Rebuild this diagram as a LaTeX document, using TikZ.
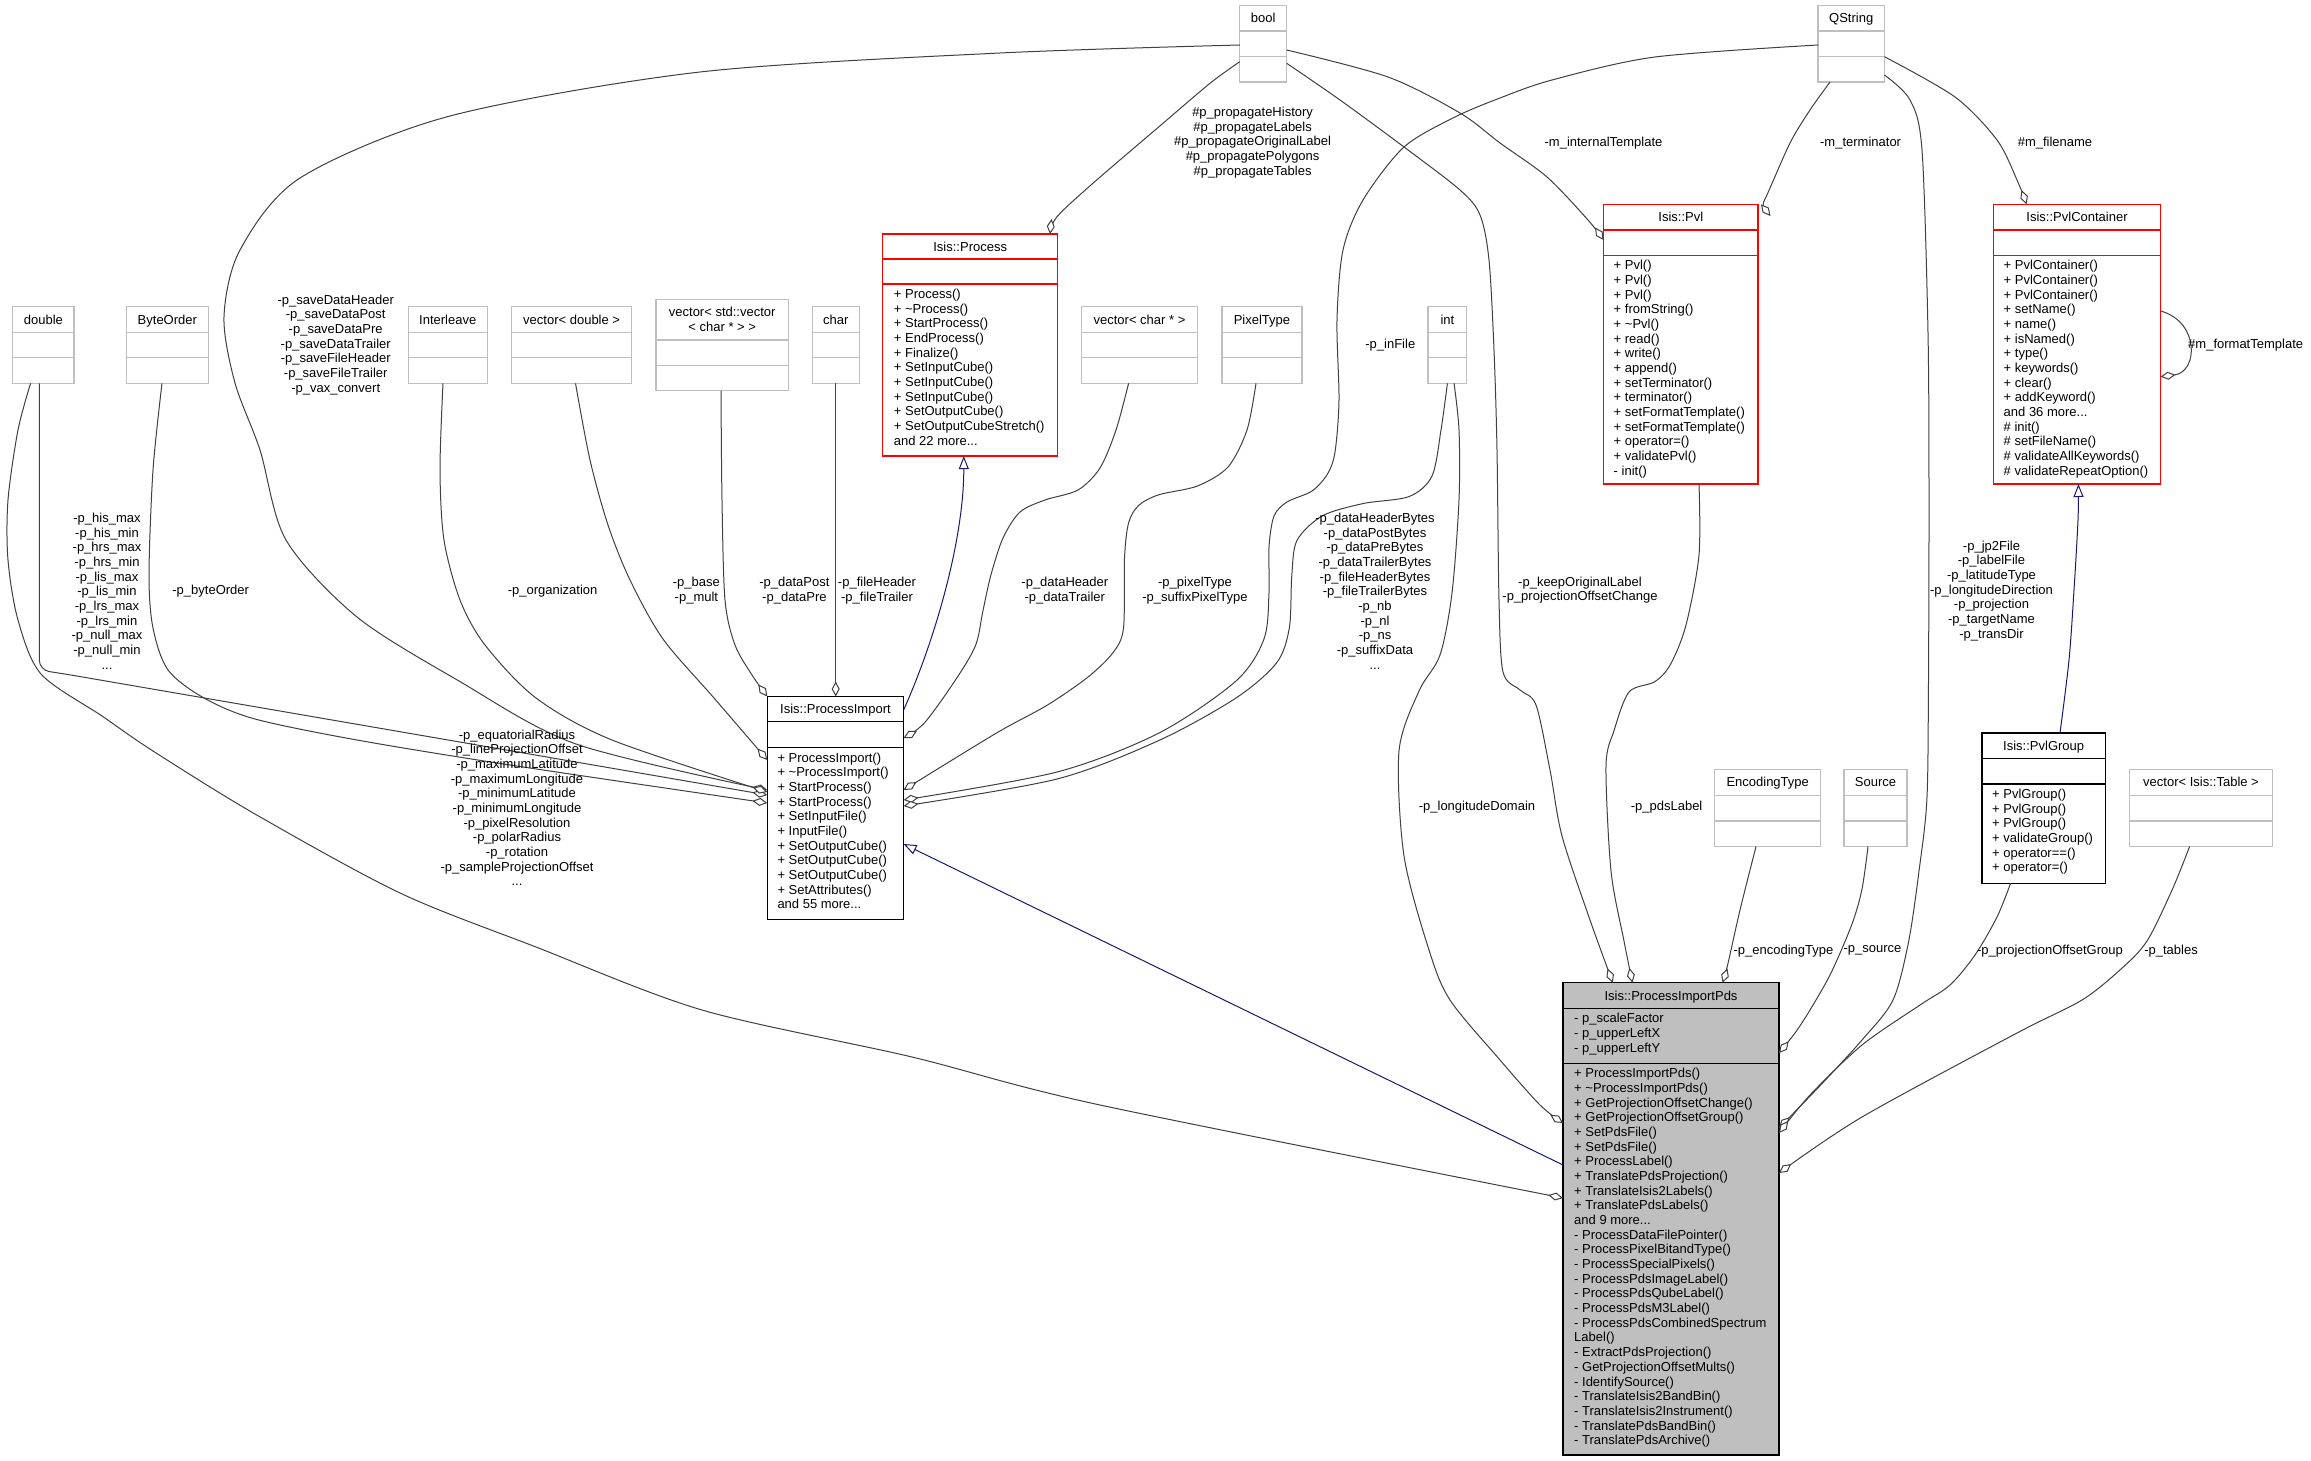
\documentclass[tikz,border=0pt]{standalone}
\usepackage{fontspec}
\setmainfont{Liberation Sans}
\usetikzlibrary{arrows.meta,calc}
\definecolor{edgec}{HTML}{404040}
\definecolor{inhc}{HTML}{191970}
\definecolor{gborder}{HTML}{BFBFBF}
\definecolor{rborder}{HTML}{FF0000}
\definecolor{pfill}{HTML}{BFBFBF}
\newcommand\ff{\fontsize{13}{14.67}\selectfont}
\newcommand\umlnode[9]{%
  \node[#1box, minimum width=#5, minimum height=#6] (#2) at (#3,#4) {};
  \draw[#1sep] ($(#2.north west)+(0,#7)$) -- ($(#2.north east)+(0,#7)$);
  \draw[#1sep] ($(#2.north west)+(0,#8)$) -- ($(#2.north east)+(0,#8)$);
  \node[ttl, anchor=base] (#2-t) at ($(#2.north)+(0,{#7/2+4.5})$) {#9};
}
\begin{document}
\begin{tikzpicture}[x=1pt,y=-1pt,
  boxbase/.style={draw, anchor=north west, inner sep=0, outer sep=0, rectangle},
  gbox/.style={boxbase, draw=gborder, line width=1.3pt, fill=white},
  gsep/.style={draw=gborder, line width=1.3pt},
  rbox/.style={boxbase, draw=rborder, line width=1.3pt, fill=white},
  rsep/.style={draw=rborder, line width=1.3pt},
  kbox/.style={boxbase, draw=black, line width=1.3pt, fill=white},
  ksep/.style={draw=black, line width=1.3pt},
  pbox/.style={boxbase, draw=black, line width=1.3pt, fill=pfill},
  psep/.style={draw=black, line width=1.3pt},
  ttl/.style={font=\ff, inner sep=0, align=center},
  mem/.style={font=\ff, inner sep=0, align=left, anchor=north west},
  lbl/.style={font=\ff, inner sep=0, align=center},
  agg/.style={draw=edgec, line width=1pt, -{Diamond[fill=white, length=15pt, width=8pt]}},
  inh/.style={draw=inhc, line width=1pt, -{Triangle[fill=white, length=13pt, width=10pt]}},
]
\fill[white] (0,0) rectangle (2311,1461);
\useasboundingbox (0,0) rectangle (2311,1461);

% ---------- classes ----------
\umlnode{g}{double}{12.8}{306.7}{61.2}{76.6}{25.6}{51}{double}
\umlnode{g}{bo}{126.5}{306.7}{81.7}{76.6}{25.6}{51}{ByteOrder}
\umlnode{g}{il}{408.2}{306.7}{79}{76.6}{25.6}{51}{Interleave}
\umlnode{g}{vd}{511.7}{306.7}{119.9}{76.6}{25.6}{51}{vector< double >}
\umlnode{g}{vvc}{656.1}{299.3}{132.2}{91.4}{40.7}{66}{}
\node[ttl] (vvc-tt) at ($(vvc.north)+(0,20.3)$) {vector< std::vector\\< char * > >};
\umlnode{g}{ch}{812.2}{306.7}{47}{76.6}{25.6}{51}{char}
\umlnode{g}{vc}{1081.6}{306.7}{115.8}{76.6}{25.6}{51}{vector< char * >}
\umlnode{g}{pt}{1221.9}{306.7}{80.1}{76.6}{25.6}{51}{PixelType}
\umlnode{g}{int}{1428}{306.7}{38.8}{76.6}{25.6}{51}{int}
\umlnode{g}{bool}{1239.8}{5.3}{46.9}{76.7}{25.7}{51.2}{bool}
\umlnode{g}{qs}{1818}{5.3}{66.4}{76.7}{25.7}{51.2}{QString}
\umlnode{g}{et}{1714.7}{769.3}{106}{77.2}{26}{51.6}{EncodingType}
\umlnode{g}{src}{1844}{769.3}{63.1}{77.2}{26}{51.6}{Source}
\umlnode{g}{vt}{2129.6}{769.3}{142.8}{77.2}{26}{51.6}{vector< Isis::Table >}

\umlnode{r}{proc}{882.7}{234}{175}{222.1}{25}{50}{Isis::Process}
\node[mem] at ($(proc.north west)+(11,55)$) {+ Process()\\+ \textasciitilde Process()\\+ StartProcess()\\+ EndProcess()\\+ Finalize()\\+ SetInputCube()\\+ SetInputCube()\\+ SetInputCube()\\+ SetOutputCube()\\+ SetOutputCubeStretch()\\and 22 more...};

\umlnode{r}{pvl}{1603.5}{204.3}{154.6}{279.7}{25.7}{51}{Isis::Pvl}
\node[mem] at ($(pvl.north west)+(10,56)$) {+ Pvl()\\+ Pvl()\\+ Pvl()\\+ fromString()\\+ \textasciitilde Pvl()\\+ read()\\+ write()\\+ append()\\+ setTerminator()\\+ terminator()\\+ setFormatTemplate()\\+ setFormatTemplate()\\+ operator=()\\+ validatePvl()\\- init()};

\umlnode{r}{pvc}{1993.5}{204.3}{167.1}{279.7}{25.7}{51}{Isis::PvlContainer}
\node[mem] at ($(pvc.north west)+(10,56)$) {+ PvlContainer()\\+ PvlContainer()\\+ PvlContainer()\\+ setName()\\+ name()\\+ isNamed()\\+ type()\\+ keywords()\\+ clear()\\+ addKeyword()\\and 36 more...\\\# init()\\\# setFileName()\\\# validateAllKeywords()\\\# validateRepeatOption()};

\umlnode{k}{pi}{767.3}{696.5}{136.3}{222.8}{25.3}{50.9}{Isis::ProcessImport}
\node[mem] at ($(pi.north west)+(10,56)$) {+ ProcessImport()\\+ \textasciitilde ProcessImport()\\+ StartProcess()\\+ StartProcess()\\+ SetInputFile()\\+ InputFile()\\+ SetOutputCube()\\+ SetOutputCube()\\+ SetOutputCube()\\+ SetAttributes()\\and 55 more...};

\umlnode{k}{pg}{1982}{733}{123.3}{150.3}{25.8}{51}{Isis::PvlGroup}
\node[mem] at ($(pg.north west)+(10,56)$) {+ PvlGroup()\\+ PvlGroup()\\+ PvlGroup()\\+ validateGroup()\\+ operator==()\\+ operator=()};

\umlnode{p}{pip}{1563}{982.7}{216}{472.3}{25.6}{80.6}{Isis::ProcessImportPds}
\node[mem] at ($(pip.north west)+(11,30.6)$) {- p\_scaleFactor\\- p\_upperLeftX\\- p\_upperLeftY};
\node[mem] at ($(pip.north west)+(11,85.6)$) {+ ProcessImportPds()\\+ \textasciitilde ProcessImportPds()\\+ GetProjectionOffsetChange()\\+ GetProjectionOffsetGroup()\\+ SetPdsFile()\\+ SetPdsFile()\\+ ProcessLabel()\\+ TranslatePdsProjection()\\+ TranslateIsis2Labels()\\+ TranslatePdsLabels()\\and 9 more...\\- ProcessDataFilePointer()\\- ProcessPixelBitandType()\\- ProcessSpecialPixels()\\- ProcessPdsImageLabel()\\- ProcessPdsQubeLabel()\\- ProcessPdsM3Label()\\- ProcessPdsCombinedSpectrum\\Label()\\- ExtractPdsProjection()\\- GetProjectionOffsetMults()\\- IdentifySource()\\- TranslateIsis2BandBin()\\- TranslateIsis2Instrument()\\- TranslatePdsBandBin()\\- TranslatePdsArchive()};

% ---------- connectors ----------
\draw[agg] plot[smooth] coordinates {(bool.west |- 0,45) (1000,53) (700,72) (450,116) (300,178) (240,250) (224,317) (235,383) (260,450) (286,540) (357,617) (459,681) (576,744) (pi.west |- 0,790)};
\draw[agg, rounded corners=10pt] (double.south -| 39.3,0) -- (39.3,670) -- (71,675) -- (pi.west |- 0,795);
\draw[agg] plot[smooth] coordinates {(double.south -| 30.6,0) (18,430) (8,500) (8,560) (18,620) (41,674) (102,716) (153,751) (255,814) (400,893) (536,947) (702,1010) (912,1057) (1100,1105) (pip.west |- 0,1198)};
\draw[agg] plot[smooth] coordinates {(bo.south -| 162,0) (153,470) (149,575) (153,628) (168,670) (204,698) (255,719) (357,740) (510,765) (pi.west |- 0,803)};
\draw[agg] plot[smooth] coordinates {(il.south -| 443,0) (440,470) (444,540) (460,600) (485,645) (536,698) (612,740) (pi.west |- 0,792)};
\draw[agg] plot[smooth] coordinates {(vd.south -| 575.5,0) (590,460) (608,525) (630,580) (663,639) (714,698) (pi.west |- 0,760)};
\draw[agg] plot[smooth] coordinates {(vvc.south -| 721,0) (722,500) (725,600) (735,645) (752,675) (pi.north west)};
\draw[agg] (ch.south -| 835.7,0) -- (pi.north -| 835.7,0);
\draw[inh] (pi.east |- 0,710) .. controls (935,640) and (963.8,540) .. (proc.south -| 963.8,0);
\draw[agg] plot[smooth] coordinates {(vc.south -| 1128.6,0) (1116,430) (1100,468) (1078,490) (1045,500) (1020,512) (1003,538) (990.8,575.4) (983,610.5) (975.5,645.6) (955,680.7) (924.5,722.8) (pi.east |- 0,738)};
\draw[agg] plot[smooth] coordinates {(pt.south -| 1256,0) (1247,430) (1228,467) (1197.4,486) (1159,494.7) (1138.8,505.3) (1128.6,522.8) (1124.5,558) (1123.5,628) (1113,652.6) (1087.8,677.2) (1047,705.3) (996,733.3) (pi.east |- 0,790)};
\draw[agg] plot[smooth] coordinates {(qs.west |- 0,45) (1655,57) (1552,80) (1500,98) (1455,117) (1404,147) (1363,200) (1343,250) (1337,320) (1339,400) (1335,452) (1327.5,474) (1312,491) (1287,502) (1274,516) (1269,547) (1269,593) (1264,639) (1236,681) (1159,733) (1057,772) (pi.east |- 0,800)};
\draw[agg] plot[smooth] coordinates {(int.south -| 1447.4,0) (1441,430) (1432,476) (1409.2,496.5) (1363.3,503.5) (1322.4,515.8) (1297,540.4) (1291.8,575.4) (1289.3,628) (1276.5,663) (1235.7,698.2) (1159,740.4) (1057,779) (pi.east |- 0,806)};
\draw[agg] plot[smooth] coordinates {(int.south -| 1454,0) (1459,430) (1459,500) (1452,593) (1440,655) (1419,691) (1399,751) (1404,856) (1429,950) (1450,1000) (1500,1060) (1540,1105) (pip.west |- 0,1123)};
\draw[agg] plot[smooth] coordinates {(bool.west |- 0,61.7) (1210,83.3) (1159,126.7) (1092.9,183.3) (1057,216.7) (proc.north -| 1050,0)};
\draw[agg] plot[smooth] coordinates {(bool.east |- 0,50) (1388,77) (1460,113) (1500,143) (1547,177) (1588,220) (pvl.west |- 0,240)};
\draw[agg] plot[smooth] coordinates {(bool.east |- 0,63.3) (1340,100) (1404,147) (1460,190) (1480,215) (1489,260) (1494,350) (1497,450) (1499,600) (1503,672) (1520,690) (1536,705) (1550,770) (1562,836) (1590,920) (pip.north -| 1612.8,0)};
\draw[agg] plot[smooth] coordinates {(pvl.south -| 1699,0) (1699,555) (1686,625) (1670.7,664) (1655,681.6) (1629,692) (1614,730.7) (1606,765.8) (1611,871) (1624,941) (pip.north -| 1632.4,0)};
\draw[agg] plot[smooth] coordinates {(qs.south -| 1830,0) (1810,110) (1790,143) (1766,197) (pvl.north -| 1761,0)};
\draw[agg] plot[smooth] coordinates {(qs.east |- 0,75) (1910,100) (1922,150) (1928,333) (1929,500) (1928.4,695.6) (1926.8,801) (1919,871) (1908.7,941) (1893,1000) (1862,1040) (1820.7,1085) (pip.east |- 0,1128)};
\draw[agg] plot[smooth] coordinates {(qs.east |- 0,56.7) (1955,97) (1997,140) (2017,180) (pvc.north -| 2026.6,0)};
\draw[agg] (pvc.east |- 0,311) .. controls (2200,322) and (2198,372) .. (pvc.east |- 0,376.7);
\draw[inh] plot[smooth] coordinates {(pg.north -| 2060,0) (2069,660) (2074,590) (2078,520) (pvc.south -| 2078.4,0)};
\draw[agg] plot[smooth] coordinates {(et.south -| 1756,0) (1740,910) (1727.6,965) (pip.north -| 1722.5,0)};
\draw[agg] plot[smooth] coordinates {(src.south -| 1868,0) (1862,889) (1852,924) (1831,973) (1810,1010) (1795,1033) (pip.east |- 0,1053)};
\draw[agg] plot[smooth] coordinates {(pg.south -| 2010.6,0) (1997,917) (1975,955) (1950,985) (1920,1005) (1862,1045) (1810,1095) (pip.east |- 0,1133)};
\draw[agg] plot[smooth] coordinates {(vt.south -| 2189.6,0) (2172.5,889) (2147,941) (2121,969) (2082,1000) (2017,1033) (1862,1117) (pip.east |- 0,1173)};
\draw[inh] (pip.west |- 0,1165) -- (pi.east |- 0,844);

% ---------- labels ----------
\node[lbl] (l1) at (335.7,344.9) {-p\_saveDataHeader\\-p\_saveDataPost\\-p\_saveDataPre\\-p\_saveDataTrailer\\-p\_saveFileHeader\\-p\_saveFileTrailer\\-p\_vax\_convert};
\node[lbl] (l2) at (107,591.2) {-p\_his\_max\\-p\_his\_min\\-p\_hrs\_max\\-p\_hrs\_min\\-p\_lis\_max\\-p\_lis\_min\\-p\_lrs\_max\\-p\_lrs\_min\\-p\_null\_max\\-p\_null\_min\\...};
\node[lbl] (l3) at (210.7,591) {-p\_byteOrder};
\node[lbl] (l4) at (552.6,591) {-p\_organization};
\node[lbl] (l5) at (696.4,590.5) {-p\_base\\-p\_mult};
\node[lbl] (l6) at (794.4,590.5) {-p\_dataPost\\-p\_dataPre};
\node[lbl] (l7) at (877,590.5) {-p\_fileHeader\\-p\_fileTrailer};
\node[lbl] (l8) at (1064.8,590.5) {-p\_dataHeader\\-p\_dataTrailer};
\node[lbl] (l9) at (1195,590.5) {-p\_pixelType\\-p\_suffixPixelType};
\node[lbl] (l10) at (1375,591.2) {-p\_dataHeaderBytes\\-p\_dataPostBytes\\-p\_dataPreBytes\\-p\_dataTrailerBytes\\-p\_fileHeaderBytes\\-p\_fileTrailerBytes\\-p\_nb\\-p\_nl\\-p\_ns\\-p\_suffixData\\...};
\node[lbl] (l11) at (1390.3,345) {-p\_inFile};
\node[lbl] (l12) at (1252.6,142.5) {\#p\_propagateHistory\\\#p\_propagateLabels\\\#p\_propagateOriginalLabel\\\#p\_propagatePolygons\\\#p\_propagateTables};
\node[lbl] (l13) at (1603.5,142.7) {-m\_internalTemplate};
\node[lbl] (l14) at (1860.6,142.7) {-m\_terminator};
\node[lbl] (l15) at (2055,142.7) {\#m\_filename};
\node[lbl, anchor=west] (l16) at (2188,345) {\#m\_formatTemplate};
\node[lbl] (l17) at (1580,590) {-p\_keepOriginalLabel\\-p\_projectionOffsetChange};
\node[lbl] (l18) at (1991.5,590.7) {-p\_jp2File\\-p\_labelFile\\-p\_latitudeType\\-p\_longitudeDirection\\-p\_projection\\-p\_targetName\\-p\_transDir};
\node[lbl] (l19) at (1477,807) {-p\_longitudeDomain};
\node[lbl] (l20) at (1666.6,806.8) {-p\_pdsLabel};
\node[lbl] (l21) at (1783.5,950.7) {-p\_encodingType};
\node[lbl] (l22) at (1872.5,950.7) {-p\_source};
\node[lbl] (l23) at (2050,950.7) {-p\_projectionOffsetGroup};
\node[lbl] (l24) at (2171,950.7) {-p\_tables};
\node[lbl] (l25) at (517,807.7) {-p\_equatorialRadius\\-p\_lineProjectionOffset\\-p\_maximumLatitude\\-p\_maximumLongitude\\-p\_minimumLatitude\\-p\_minimumLongitude\\-p\_pixelResolution\\-p\_polarRadius\\-p\_rotation\\-p\_sampleProjectionOffset\\...};
\end{tikzpicture}
\end{document}
